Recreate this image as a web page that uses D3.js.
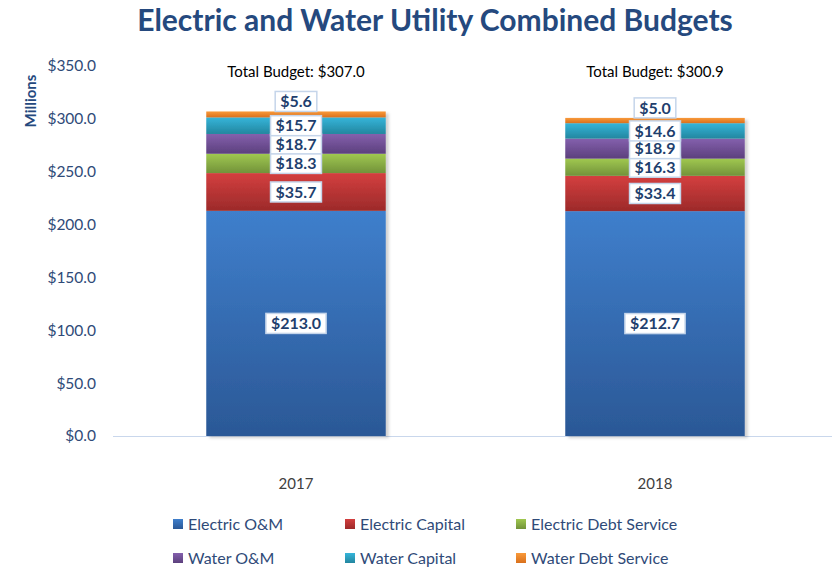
<!DOCTYPE html>
<html>
<head>
<meta charset="utf-8">
<script src="https://cdn.jsdelivr.net/npm/d3@7"></script>
<style>
  body { margin: 0; background: #fff; }
  svg { font-family: Lato, "Open Sans", sans-serif; }
</style>
</head>
<body>
<div id="chart"></div>
<script>
(() => {
    let years = ['2017', '2018'];
    let series = ['Electric O&M', 'Electric Capital', 'Electric Debt Service', 'Water O&M', 'Water Capital', 'Water Debt Service'];
    let electricOM = [213.0, 212.7];
    let electricCapital = [35.7, 33.4];
    let electricDebt = [18.3, 16.3];
    let waterOM = [18.7, 18.9];
    let waterCapital = [15.7, 14.6];
    let waterDebt = [5.6, 5.0];
    let totals = [307.0, 300.9];
    let yTicks = [0, 50, 100, 150, 200, 250, 300, 350];

    let colors = [
        ['#3f7fcc', '#2b5896'],
        ['#d43f3f', '#9c2a2a'],
        ['#a0c850', '#72923a'],
        ['#8460ad', '#5c407d'],
        ['#35b5da', '#23869f'],
        ['#f99a3a', '#d9701c']
    ];

    let values = [electricOM, electricCapital, electricDebt, waterOM, waterCapital, waterDebt];
    let rows = years.map((y, i) => {
        let r = { year: y };
        series.forEach((s, j) => r[s] = values[j][i]);
        return r;
    });
    let stacked = d3.stack().keys(series)(rows);

    let W = 832, H = 567;
    let svg = d3.select('#chart').append('svg')
        .attr('width', W)
        .attr('height', H);

    let defs = svg.append('defs');
    colors.forEach((c, i) => {
        let g = defs.append('linearGradient')
            .attr('id', 'grad' + i)
            .attr('x1', 0).attr('y1', 0).attr('x2', 0).attr('y2', 1);
        g.append('stop').attr('offset', '0%').attr('stop-color', c[0]);
        g.append('stop').attr('offset', '100%').attr('stop-color', c[1]);
    });
    let f = defs.append('filter').attr('id', 'shadow')
        .attr('x', '-5%').attr('y', '-5%').attr('width', '115%').attr('height', '115%');
    f.append('feDropShadow')
        .attr('dx', 3).attr('dy', 2).attr('stdDeviation', 1.5)
        .attr('flood-color', '#000').attr('flood-opacity', 0.18);

    let x = d3.scaleBand()
        .domain(years)
        .range([116.5, 834.5])
        .paddingInner(0.5)
        .paddingOuter(0.25);
    let y = d3.scaleLinear()
        .domain([0, 350])
        .range([436, 66]);

    // title
    svg.append('text')
        .attr('x', 435).attr('y', 31)
        .attr('text-anchor', 'middle')
        .attr('font-size', 30)
        .attr('font-weight', 'bold')
        .attr('fill', '#25497e')
        .text('Electric and Water Utility Combined Budgets');

    // y axis
    let yAxis = svg.append('g')
        .attr('transform', 'translate(96,0)')
        .call(d3.axisLeft(y).tickValues(yTicks).tickSize(0).tickPadding(0)
            .tickFormat(d => '$' + d3.format('.1f')(d)));
    yAxis.select('.domain').remove();
    yAxis.selectAll('text')
        .attr('font-size', 15.5)
        .attr('font-family', 'Lato, sans-serif')
        .attr('fill', '#2f4a78');

    svg.append('text')
        .attr('transform', 'translate(36,101) rotate(-90)')
        .attr('text-anchor', 'middle')
        .attr('font-size', 15)
        .attr('font-weight', 'bold')
        .attr('fill', '#25497e')
        .text('Millions');

    // baseline
    svg.append('line')
        .attr('x1', 113).attr('x2', 832)
        .attr('y1', y(0) + 0.5).attr('y2', y(0) + 0.5)
        .attr('stroke', '#c9d7ec')
        .attr('stroke-width', 1);

    // x labels
    svg.selectAll('.xlab')
        .data(years)
        .enter()
        .append('text')
        .attr('class', 'xlab')
        .attr('x', d => x(d) + x.bandwidth() / 2)
        .attr('y', 489)
        .attr('text-anchor', 'middle')
        .attr('font-size', 15)
        .attr('fill', '#404040')
        .text(d => d);

    // bars
    let barGroup = svg.append('g').attr('filter', 'url(#shadow)');
    stacked.forEach((layer, i) => {
        barGroup.selectAll('.seg' + i)
            .data(layer)
            .enter()
            .append('rect')
            .attr('x', d => x(d.data.year))
            .attr('width', x.bandwidth())
            .attr('y', d => y(d[1]))
            .attr('height', d => y(d[0]) - y(d[1]))
            .attr('fill', 'url(#grad' + i + ')');
    });

    // data labels
    let fmt = d => '$' + d3.format('.1f')(d);
    stacked.forEach((layer, i) => {
        layer.forEach(d => {
            let cx = x(d.data.year) + x.bandwidth() / 2;
            let cy = (i === series.length - 1) ? y(d[1]) - 10 : (y(d[0]) + y(d[1])) / 2;
            let g = svg.append('g');
            let t = g.append('text')
                .attr('x', cx).attr('y', cy)
                .attr('text-anchor', 'middle')
                .attr('dy', '0.36em')
                .attr('font-size', 16)
                .attr('font-weight', 'bold')
                .attr('fill', '#1f3f6e')
                .text(fmt(d[1] - d[0]));
            let bb = t.node().getBBox();
            g.insert('rect', 'text')
                .attr('x', bb.x - 5).attr('y', cy - 10)
                .attr('width', bb.width + 10).attr('height', 20)
                .attr('fill', '#fff')
                .attr('stroke', '#c5d5ea')
                .attr('stroke-width', 1.5);
        });
    });

    // totals
    svg.selectAll('.total')
        .data(years)
        .enter()
        .append('text')
        .attr('x', d => x(d) + x.bandwidth() / 2)
        .attr('y', 77)
        .attr('text-anchor', 'middle')
        .attr('font-size', 15)
        .attr('fill', '#000')
        .text((d, i) => 'Total Budget: $' + d3.format('.1f')(totals[i]));

    // legend
    let legX = [173, 345, 516];
    let legY = [524, 558];
    series.forEach((s, i) => {
        let lx = legX[i % 3], ly = legY[Math.floor(i / 3)];
        svg.append('rect')
            .attr('x', lx).attr('y', ly - 5)
            .attr('width', 10).attr('height', 10)
            .attr('fill', 'url(#grad' + i + ')');
        svg.append('text')
            .attr('x', lx + 15).attr('y', ly)
            .attr('dy', '0.35em')
            .attr('font-size', 16)
            .attr('fill', '#2f4a78')
            .text(s);
    });
})();
</script>
</body>
</html>
